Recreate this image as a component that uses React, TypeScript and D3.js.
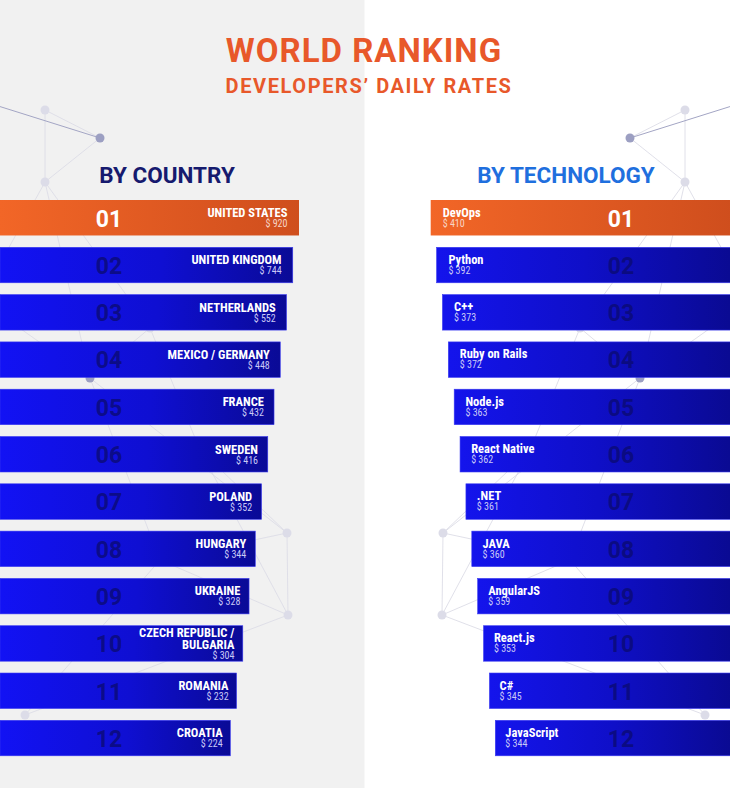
import React from "react";
import * as d3 from "d3";

const W = 730;
const H = 788;

const titleLine1 = "WORLD RANKING";
const titleLine2 = "DEVELOPERS’ DAILY RATES";
const leftHeading = "BY COUNTRY";
const rightHeading = "BY TECHNOLOGY";

const ranks = ["01", "02", "03", "04", "05", "06", "07", "08", "09", "10", "11", "12"];

const countries = [
  "UNITED STATES",
  "UNITED KINGDOM",
  "NETHERLANDS",
  "MEXICO / GERMANY",
  "FRANCE",
  "SWEDEN",
  "POLAND",
  "HUNGARY",
  "UKRAINE",
  "CZECH REPUBLIC /\nBULGARIA",
  "ROMANIA",
  "CROATIA",
];
const countryRates = [920, 744, 552, 448, 432, 416, 352, 344, 328, 304, 232, 224];

const technologies = [
  "DevOps",
  "Python",
  "C++",
  "Ruby on Rails",
  "Node.js",
  "React Native",
  ".NET",
  "JAVA",
  "AngularJS",
  "React.js",
  "C#",
  "JavaScript",
];
const techRates = [410, 392, 373, 372, 363, 362, 361, 360, 359, 353, 345, 344];

// decorative background network (left half; mirrored on the right)
const netNodes: [number, number, number][] = [
  [45, 110, 0],
  [100, 138, 1],
  [45, 182, 0],
  [150, 328, 0],
  [90, 378, 1],
  [287, 533, 0],
  [288, 615, 0],
  [25, 715, 0],
  [-20, 300, 0],
  [200, 450, 0],
  [160, 560, 0],
];
const netLinks: [number, number][] = [
  [0, 1], [0, 2], [1, 2], [2, 3], [3, 4], [2, 4], [4, 5], [5, 6], [6, 7],
  [4, 8], [8, 2], [3, 9], [9, 5], [9, 6], [10, 6], [10, 7], [4, 10], [5, 10],
];

const DISPLAY = "Roboto, 'Liberation Sans', Arial, sans-serif";
const NARROW = "'Liberation Sans Narrow', 'Roboto Condensed', 'DejaVu Sans Condensed', Roboto, sans-serif";

export default function App() {
  const y = d3
    .scaleBand<string>()
    .domain(ranks)
    .range([200, 755.8])
    .paddingInner(0.25)
    .paddingOuter(0);

  const idx = d3.scaleLinear().domain([0, 11]);
  const leftEnd = idx.copy().range([299, 230.3]);
  const leftLabel = idx.copy().range([287.5, 222.7]);
  const rightStart = idx.copy().range([430.7, 495.3]);
  const rightLabel = idx.copy().range([442.7, 505.3]);

  const fmt = (v: number) => `$ ${d3.format("d")(v)}`;

  const mirror = (x: number) => W - x;

  const network = (mir: boolean) => (
    <g>
      {netLinks.map(([a, b], i) => {
        const na = netNodes[a];
        const nb = netNodes[b];
        const dark = na[2] === 1 && nb[2] === 1;
        return (
          <line
            key={i}
            x1={mir ? mirror(na[0]) : na[0]}
            y1={na[1]}
            x2={mir ? mirror(nb[0]) : nb[0]}
            y2={nb[1]}
            stroke={dark ? "#a9abc8" : "#dcdce6"}
            strokeWidth={0.9}
          />
        );
      })}
      <line
        x1={mir ? mirror(-5) : -5}
        y1={105}
        x2={mir ? mirror(100) : 100}
        y2={138}
        stroke="#a3a5c4"
        strokeWidth={1}
      />
      {netNodes.map((n, i) => (
        <circle
          key={i}
          cx={mir ? mirror(n[0]) : n[0]}
          cy={n[1]}
          r={4.5}
          fill={n[2] === 1 ? "#9c9fc2" : "#dcdce8"}
        />
      ))}
    </g>
  );

  const nameLines = (s: string) => s.split("\n");

  return (
    <svg
      width={W}
      height={H}
      viewBox={`0 0 ${W} ${H}`}
      style={{ position: "absolute", left: 0, top: 0, display: "block" }}
    >
      <defs>
        <linearGradient id="blueL" x1="0" x2="1" y1="0" y2="0">
          <stop offset="0" stopColor="#1212f4" />
          <stop offset="0.55" stopColor="#0f0fd2" />
          <stop offset="1" stopColor="#0a0a96" />
        </linearGradient>
        <linearGradient id="blueR" x1="0" x2="1" y1="0" y2="0">
          <stop offset="0" stopColor="#1414ec" />
          <stop offset="0.5" stopColor="#0f0fc8" />
          <stop offset="1" stopColor="#0a0a92" />
        </linearGradient>
        <linearGradient id="orange" x1="0" x2="1" y1="0" y2="0">
          <stop offset="0" stopColor="#f26627" />
          <stop offset="1" stopColor="#cf4e1d" />
        </linearGradient>
      </defs>

      <rect x={0} y={0} width={W} height={H} fill="#ffffff" />
      <rect x={0} y={0} width={364.5} height={H} fill="#f1f1f1" />

      {network(false)}
      {network(true)}

      <text
        x={W / 2 - 1}
        y={62}
        textAnchor="middle"
        fontFamily={DISPLAY}
        fontWeight={700}
        fontSize={33}
        letterSpacing={1}
        fill="#e8582a"
      >
        {titleLine1}
      </text>
      <text
        x={W / 2 + 4}
        y={93}
        textAnchor="middle"
        fontFamily={DISPLAY}
        fontWeight={700}
        fontSize={20}
        letterSpacing={1.6}
        fill="#e8582a"
      >
        {titleLine2}
      </text>

      <text
        x={167}
        y={183}
        textAnchor="middle"
        fontFamily={DISPLAY}
        fontWeight={700}
        fontSize={22.5}
        fill="#161a6e"
      >
        {leftHeading}
      </text>
      <text
        x={566}
        y={183}
        textAnchor="middle"
        fontFamily={DISPLAY}
        fontWeight={700}
        fontSize={22.5}
        fill="#1f6fde"
      >
        {rightHeading}
      </text>

      {/* Left: by country */}
      {countries.map((c, i) => {
        const top = y(ranks[i]) as number;
        const bh = y.bandwidth();
        const first = i === 0;
        const lines = nameLines(c);
        const firstBase = top + 17 - 5.3 * (lines.length - 1);
        const lx = leftLabel(i);
        return (
          <g key={"c" + i}>
            <rect
              x={0}
              y={top}
              width={leftEnd(i)}
              height={bh}
              fill={first ? "url(#orange)" : "url(#blueL)"}
              stroke={first ? "none" : "#3a3af0"}
              strokeWidth={0.6}
            />
            <text
              x={109}
              y={top + 26.5}
              textAnchor="middle"
              fontFamily={DISPLAY}
              fontWeight={700}
              fontSize={23}
              fill={first ? "#ffffff" : "#0b0b72"}
              fillOpacity={first ? 1 : 0.8}
            >
              {ranks[i]}
            </text>
            {lines.map((ln, k) => (
              <text
                key={k}
                x={lx}
                y={firstBase + k * 12}
                textAnchor="end"
                fontFamily={NARROW}
                fontWeight={700}
                fontSize={12.5}
                fill="#ffffff"
              >
                {ln}
              </text>
            ))}
            <text
              x={lx}
              y={firstBase + (lines.length - 1) * 12 + 10}
              textAnchor="end"
              fontFamily={NARROW}
              fontSize={10}
              fill={first ? "#f8d6c6" : "#c9c9f6"}
            >
              {fmt(countryRates[i])}
            </text>
          </g>
        );
      })}

      {/* Right: by technology */}
      {technologies.map((t, i) => {
        const top = y(ranks[i]) as number;
        const bh = y.bandwidth();
        const first = i === 0;
        const x0 = rightStart(i);
        const lx = rightLabel(i);
        return (
          <g key={"t" + i}>
            <rect
              x={x0}
              y={top}
              width={W - x0 + 2}
              height={bh}
              fill={first ? "url(#orange)" : "url(#blueR)"}
              stroke={first ? "none" : "#3a3af0"}
              strokeWidth={0.6}
            />
            <text
              x={621}
              y={top + 26.5}
              textAnchor="middle"
              fontFamily={DISPLAY}
              fontWeight={700}
              fontSize={23}
              fill={first ? "#ffffff" : "#0b0b72"}
              fillOpacity={first ? 1 : 0.8}
            >
              {ranks[i]}
            </text>
            <text
              x={lx}
              y={top + 16.5}
              fontFamily={NARROW}
              fontWeight={700}
              fontSize={12.5}
              fill="#ffffff"
            >
              {t}
            </text>
            <text
              x={lx}
              y={top + 26.5}
              fontFamily={NARROW}
              fontSize={10}
              fill={first ? "#f8d6c6" : "#c9c9f6"}
            >
              {fmt(techRates[i])}
            </text>
          </g>
        );
      })}
    </svg>
  );
}
